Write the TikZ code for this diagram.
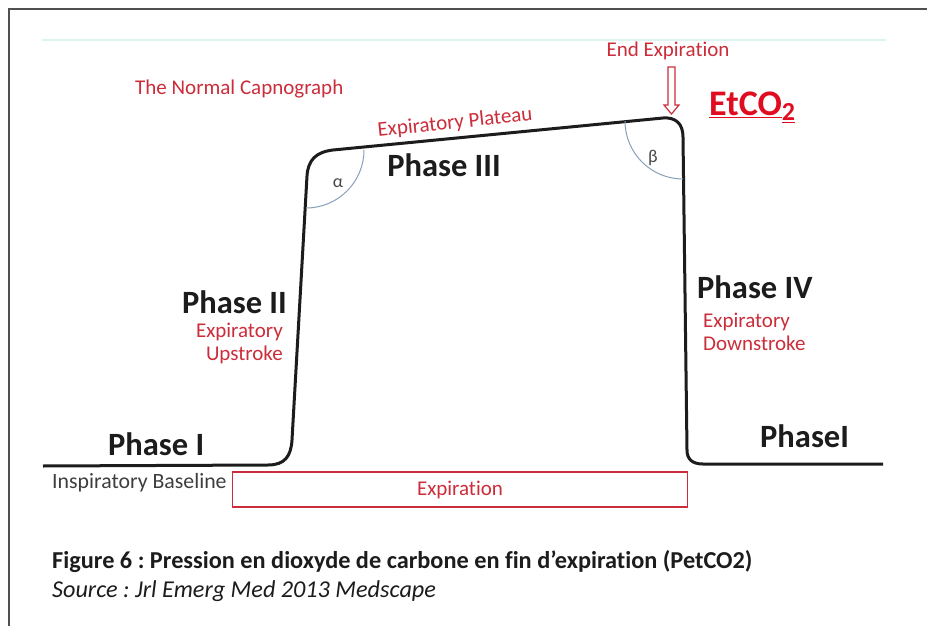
\documentclass[tikz,border=0pt]{standalone}
\usepackage{fontspec}
\setmainfont[Ligatures=NoCommon]{Carlito}
\usetikzlibrary{positioning}
\frenchspacing

\definecolor{capred}{RGB}{204,45,58}
\definecolor{etred}{RGB}{224,12,32}
\definecolor{arcblue}{RGB}{135,160,185}
\definecolor{inkgray}{RGB}{28,28,28}
\definecolor{faintteal}{RGB}{222,244,240}
\definecolor{framegray}{RGB}{80,80,80}

\begin{document}
\begin{tikzpicture}[x=1pt,y=-1pt,every node/.style={inner sep=0pt},
    phase/.style={font=\fontsize{32.5}{34}\selectfont\bfseries,text=inkgray},
    redlbl/.style={font=\fontsize{21}{24}\selectfont,text=capred},
    angle/.style={font=\fontsize{18}{20}\selectfont,text=inkgray!80},
    trace/.style={line width=3pt,inkgray,line join=round}]
  \useasboundingbox[fill=white] (0,0) rectangle (927,626);
  \draw[framegray,line width=1.3pt] (9,626) -- (9,9) -- (927,9);
  \draw[faintteal,line width=2pt] (42,40) -- (886,40);

  % the capnogram trace
  \draw[trace] (43,466) -- (268,465)
    .. controls (285,465) and (291,456) .. (292,440) -- (307,176)
    .. controls (308,160) and (316,152) .. (333,150) -- (663,118)
    .. controls (676,117) and (683,124) .. (683,137) -- (687,450)
    .. controls (687,459) and (692,464) .. (703,464) -- (883,464);

  % angles
  \draw[arcblue,line width=1pt] (364,150) arc[start angle=0,end angle=-90,radius=58pt];
  \draw[arcblue,line width=1pt] (625,121) arc[start angle=180,end angle=270,radius=58pt];
  \node[angle] (alpha) at (338,183) {α};
  \node[angle] (beta) at (653,158) {β};

  % labels
  \node[redlbl,anchor=base west] (title) at (135,95) {The Normal Capnograph};
  \node[redlbl,rotate=6] (plateau) at (455,123) {Expiratory Plateau};
  \node[phase,anchor=base] (ph3) at (444,176) {Phase III};

  \node[phase,anchor=base east] (ph2) at (287,313) {Phase II};
  \node[redlbl,anchor=base east] (up1) at (283,337) {Expiratory};
  \node[redlbl,anchor=base east] (up2) at (283,360) {Upstroke};

  \node[phase,anchor=base west] (ph4) at (697,298) {Phase IV};
  \node[redlbl,anchor=base west] (down1) at (703,327) {Expiratory};
  \node[redlbl,anchor=base west] (down2) at (703,350) {Downstroke};

  \node[phase,anchor=base west] (ph1) at (108,455) {Phase I};
  \node[phase,anchor=base west] (ph1b) at (760,447) {PhaseI};

  \node[redlbl,anchor=base] (endexp) at (668,57) {End Expiration};
  \node[anchor=base west,font=\fontsize{36}{38}\selectfont\bfseries,text=etred] (etco) at (709,116)
    {\underline{EtCO}\underline{\raisebox{-5pt}{\fontsize{26}{28}\selectfont 2}}};
  \draw[capred,line width=1.2pt,fill=white,line join=miter]
    (668,67) -- (675,67) -- (675,105) -- (679,105) -- (671.5,114)
    -- (664,105) -- (668,105) -- cycle;

  \node[font=\fontsize{21.8}{24}\selectfont,text=inkgray!85,anchor=base west] (basel) at (52,488) {Inspiratory Baseline};
  \node[draw=capred,line width=1.6pt,minimum width=455pt,minimum height=35pt] (expbox) at (460,489.5) {};
  \node[redlbl] (exp) at (expbox.center) {Expiration};

  % caption
  \node[font=\fontsize{24.3}{26}\selectfont\bfseries,text=inkgray,anchor=base west] (cap) at (52,568)
    {Figure 6 : Pression en dioxyde de carbone en fin d’expiration (PetCO2)};
  \node[font=\fontsize{24.2}{26}\selectfont\itshape,text=inkgray,anchor=base west] (src) at (52,597)
    {Source : Jrl Emerg Med 2013 Medscape};
\end{tikzpicture}
\end{document}
